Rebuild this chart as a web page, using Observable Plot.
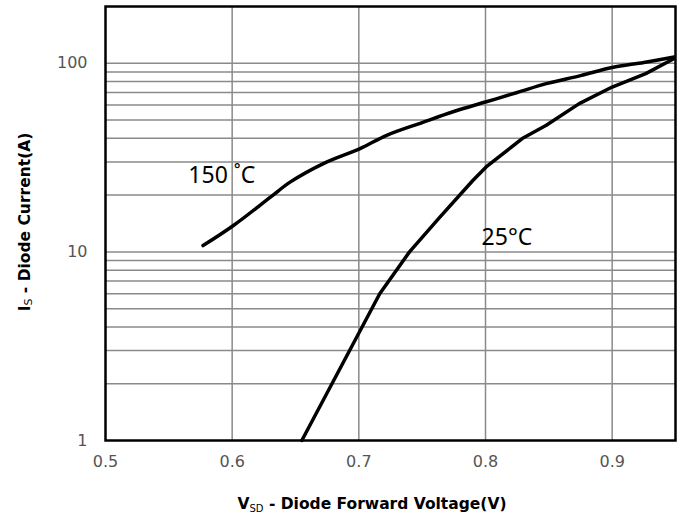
<!DOCTYPE html>
<html><head><meta charset="utf-8">
<script src="https://cdn.jsdelivr.net/npm/d3@7"></script>
<script src="https://cdn.jsdelivr.net/npm/@observablehq/plot@0.6"></script>
<style>body{margin:0;background:#fff}</style>
</head><body><div id="chart"></div>
<script>
// 150 °C curve
const v150 = [0.577, 0.601, 0.631, 0.646, 0.672, 0.701, 0.722, 0.750, 0.775, 0.800, 0.825, 0.848, 0.875, 0.900, 0.925, 0.949];
const i150 = [10.8, 13.8, 19.7, 23.5, 29.4, 35.3, 41.5, 48.5, 55.5, 62.3, 70.0, 78.0, 86.0, 95.0, 101, 108];
// 25 °C curve
const v25 = [0.655, 0.7165, 0.740, 0.764, 0.790, 0.8005, 0.829, 0.848, 0.874, 0.900, 0.9265, 0.949];
const i25 = [1.0, 6.0, 10.0, 15.3, 23.9, 28.2, 39.9, 46.9, 61.1, 74.8, 88.1, 106];

const xTicks = [0.5, 0.6, 0.7, 0.8, 0.9];
const yTicks = [1, 10, 100];
const xGrid = [0.6, 0.7, 0.8, 0.9];
const yGrid = [2, 3, 4, 5, 6, 7, 8, 9, 10, 20, 30, 40, 50, 60, 70, 80, 90, 100];

const labelText = ["150 \u02DAC", "25\u00B0C"];
const labelV = [0.5654, 0.7969];
const labelI = [25.5, 11.9];

const curve150 = v150.map((v, k) => ({v, i: i150[k]}));
const curve25 = v25.map((v, k) => ({v, i: i25[k]}));
const labels = labelText.map((t, k) => ({t, v: labelV[k], i: labelI[k]}));

const W = 684, H = 522;
const plot = Plot.plot({
  width: W, height: H,
  marginLeft: 105, marginRight: 9, marginTop: 6, marginBottom: 82,
  style: {fontFamily: "DejaVu Sans", fontSize: "16px", color: "#555", background: "#fff"},
  x: {domain: [0.5, 0.95], ticks: xTicks, tickSize: 0, tickPadding: 15, tickFormat: d3.format(".1f"), label: null},
  y: {type: "log", domain: [1, 200], ticks: yTicks, tickSize: 0, tickPadding: 18, tickFormat: d => String(d), label: null},
  marks: [
    Plot.ruleY(yGrid, {stroke: "#8a8a8a", strokeWidth: 1.5}),
    Plot.ruleX(xGrid, {stroke: "#8a8a8a", strokeWidth: 1.5}),
    Plot.line(curve150, {x: "v", y: "i", stroke: "#000", strokeWidth: 3.5, curve: "catmull-rom"}),
    Plot.line(curve25, {x: "v", y: "i", stroke: "#000", strokeWidth: 3.5, curve: "linear"}),
    Plot.text(labels, {x: "v", y: "i", text: "t", fill: "#000", fontSize: 23, fontFamily: "Noto Sans", textAnchor: "start"}),
    Plot.frame({stroke: "#000", strokeWidth: 2.5})
  ]
});
document.getElementById("chart").appendChild(plot);

const svg = d3.select(plot);
const xt = svg.append("text")
  .attr("x", 372).attr("y", 509)
  .attr("text-anchor", "middle")
  .attr("font-family", "DejaVu Sans").attr("font-weight", "bold").attr("font-size", 15.5)
  .attr("fill", "#000");
xt.append("tspan").text("V");
xt.append("tspan").attr("font-size", 10).attr("font-weight", "normal").attr("dy", 3).text("SD");
xt.append("tspan").attr("dy", -3).text(" - Diode Forward Voltage(V)");

const yt = svg.append("text")
  .attr("transform", "translate(30,222) rotate(-90)")
  .attr("text-anchor", "middle")
  .attr("font-family", "DejaVu Sans").attr("font-weight", "bold").attr("font-size", 15.5)
  .attr("fill", "#000");
yt.append("tspan").text("I");
yt.append("tspan").attr("font-size", 11).attr("font-weight", "normal").attr("dy", 2).text("S");
yt.append("tspan").attr("dy", -2).text(" - Diode Current(A)");
</script>
</body></html>
